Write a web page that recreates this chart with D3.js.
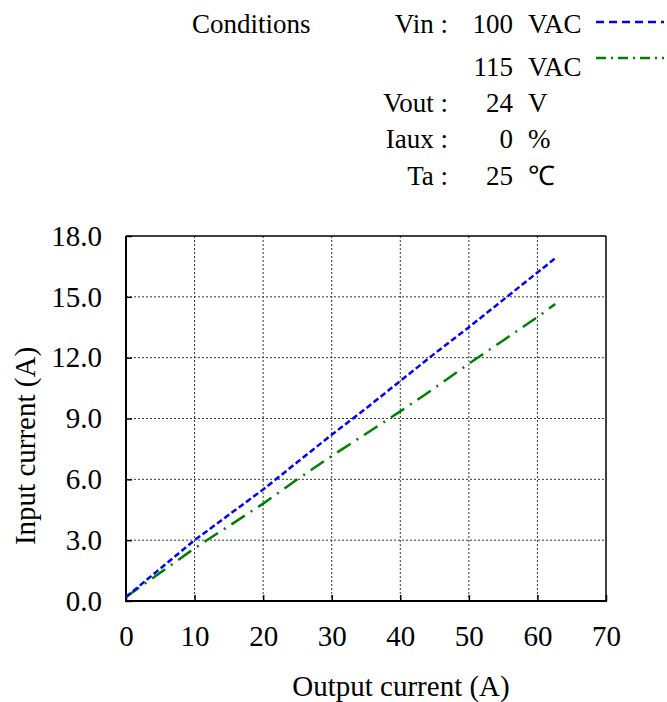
<!DOCTYPE html>
<html><head><meta charset="utf-8">
<script src="https://cdn.jsdelivr.net/npm/d3@7"></script>
<style>body{margin:0;background:#fff}svg{display:block}text{font-family:"Liberation Serif","Times New Roman",serif;fill:#000}</style>
</head><body>
<svg id="c" width="667" height="702"></svg>
<script>
const xValues = [0, 5, 10, 15, 20, 25, 30, 35, 40, 45, 50, 55, 60, 62.6];
const vin100 = [0.2, 1.6, 3.0, 4.25, 5.5, 6.85, 8.2, 9.5, 10.85, 12.2, 13.5, 14.85, 16.2, 16.9];
const vin115 = [0.2, 1.4, 2.6, 3.7, 4.8, 6.0, 7.15, 8.25, 9.35, 10.5, 11.7, 12.85, 14.0, 14.65];
const xTicks = [0, 10, 20, 30, 40, 50, 60, 70];
const yTicks = [0, 3, 6, 9, 12, 15, 18];
const condLabels = ["Vin :", "", "Vout :", "Iaux :", "Ta :"];
const condValues = ["100", "115", "24", "0", "25"];
const condUnits = ["VAC", "VAC", "V", "%", "℃"];

const svg = d3.select("#c");
const L = 126, R = 606, T = 236, B = 601;
const AF = 29, LF = 27;
const x = d3.scaleLinear().domain([0, 70]).range([L, R]);
const y = d3.scaleLinear().domain([0, 18]).range([B, T]);

// grid
const g = svg.append("g");
g.selectAll(".gx").data(xTicks.slice(1, -1)).enter().append("line")
  .attr("x1", d => x(d)).attr("x2", d => x(d)).attr("y1", T).attr("y2", B)
  .attr("stroke", "#333").attr("stroke-width", 1).attr("stroke-dasharray", "2,2");
g.selectAll(".gy").data(yTicks.slice(1, -1)).enter().append("line")
  .attr("y1", d => y(d)).attr("y2", d => y(d)).attr("x1", L).attr("x2", R)
  .attr("stroke", "#333").attr("stroke-width", 1).attr("stroke-dasharray", "2,2");

// frame
svg.append("line").attr("x1", L).attr("x2", R).attr("y1", T).attr("y2", T).attr("stroke", "#000").attr("stroke-width", 1.5);
svg.append("line").attr("x1", R).attr("x2", R).attr("y1", T).attr("y2", B).attr("stroke", "#000").attr("stroke-width", 1.5);
svg.append("line").attr("x1", L).attr("x2", L).attr("y1", T).attr("y2", B + 1).attr("stroke", "#000").attr("stroke-width", 2);
svg.append("line").attr("x1", L - 1).attr("x2", R + 1).attr("y1", B).attr("y2", B).attr("stroke", "#000").attr("stroke-width", 2);

// axes tick labels
const xa = svg.append("g").attr("transform", `translate(0,${B})`)
  .call(d3.axisBottom(x).tickValues(xTicks).tickSize(-6).tickPadding(24).tickFormat(d3.format("d")));
xa.select(".domain").remove();
xa.selectAll("line").attr("stroke", "#000").attr("stroke-width", 1.5);
xa.selectAll("text").attr("font-size", AF).style("font-family", "'Liberation Serif',serif");

const ya = svg.append("g").attr("transform", `translate(${L},0)`)
  .call(d3.axisLeft(y).tickValues(yTicks).tickSize(-6).tickPadding(24).tickFormat(d3.format(".1f")));
ya.select(".domain").remove();
ya.selectAll("line").attr("stroke", "#000").attr("stroke-width", 1.5);
ya.selectAll("text").attr("font-size", AF).style("font-family", "'Liberation Serif',serif");

// axis titles
svg.append("text").attr("x", 401).attr("y", 696).attr("text-anchor", "middle").attr("font-size", AF).text("Output current (A)");
svg.append("text").attr("transform", "translate(35,446) rotate(-90)").attr("text-anchor", "middle").attr("font-size", AF).text("Input current (A)");

// lines
const line = d3.line().x(d => x(d[0])).y(d => y(d[1]));
svg.append("path").datum(xValues.map((v, i) => [v, vin115[i]])).attr("d", line)
  .attr("fill", "none").attr("stroke", "#008000").attr("stroke-width", 2.5).attr("stroke-dasharray", "16,7,2,7");
svg.append("path").datum(xValues.map((v, i) => [v, vin100[i]])).attr("d", line)
  .attr("fill", "none").attr("stroke", "#0000ff").attr("stroke-width", 2.5).attr("stroke-dasharray", "6,3");

// conditions legend
svg.append("text").attr("x", 192).attr("y", 33).attr("font-size", LF).text("Conditions");
const rowsY = [33, 76, 112, 148, 185];
condLabels.forEach((t, i) => {
  if (t) svg.append("text").attr("x", 448).attr("y", rowsY[i]).attr("text-anchor", "end").attr("font-size", LF).text(t);
  svg.append("text").attr("x", 513).attr("y", rowsY[i]).attr("text-anchor", "end").attr("font-size", LF).text(condValues[i]);
  svg.append("text").attr("x", 528).attr("y", rowsY[i]).attr("font-size", LF).text(condUnits[i]);
});
svg.append("line").attr("x1", 596).attr("x2", 664).attr("y1", 22).attr("y2", 22)
  .attr("stroke", "#0000ff").attr("stroke-width", 2.5).attr("stroke-dasharray", "8,5");
svg.append("line").attr("x1", 596).attr("x2", 664).attr("y1", 58).attr("y2", 58)
  .attr("stroke", "#008000").attr("stroke-width", 2.5).attr("stroke-dasharray", "10,5,2,5");
</script>
</body></html>
